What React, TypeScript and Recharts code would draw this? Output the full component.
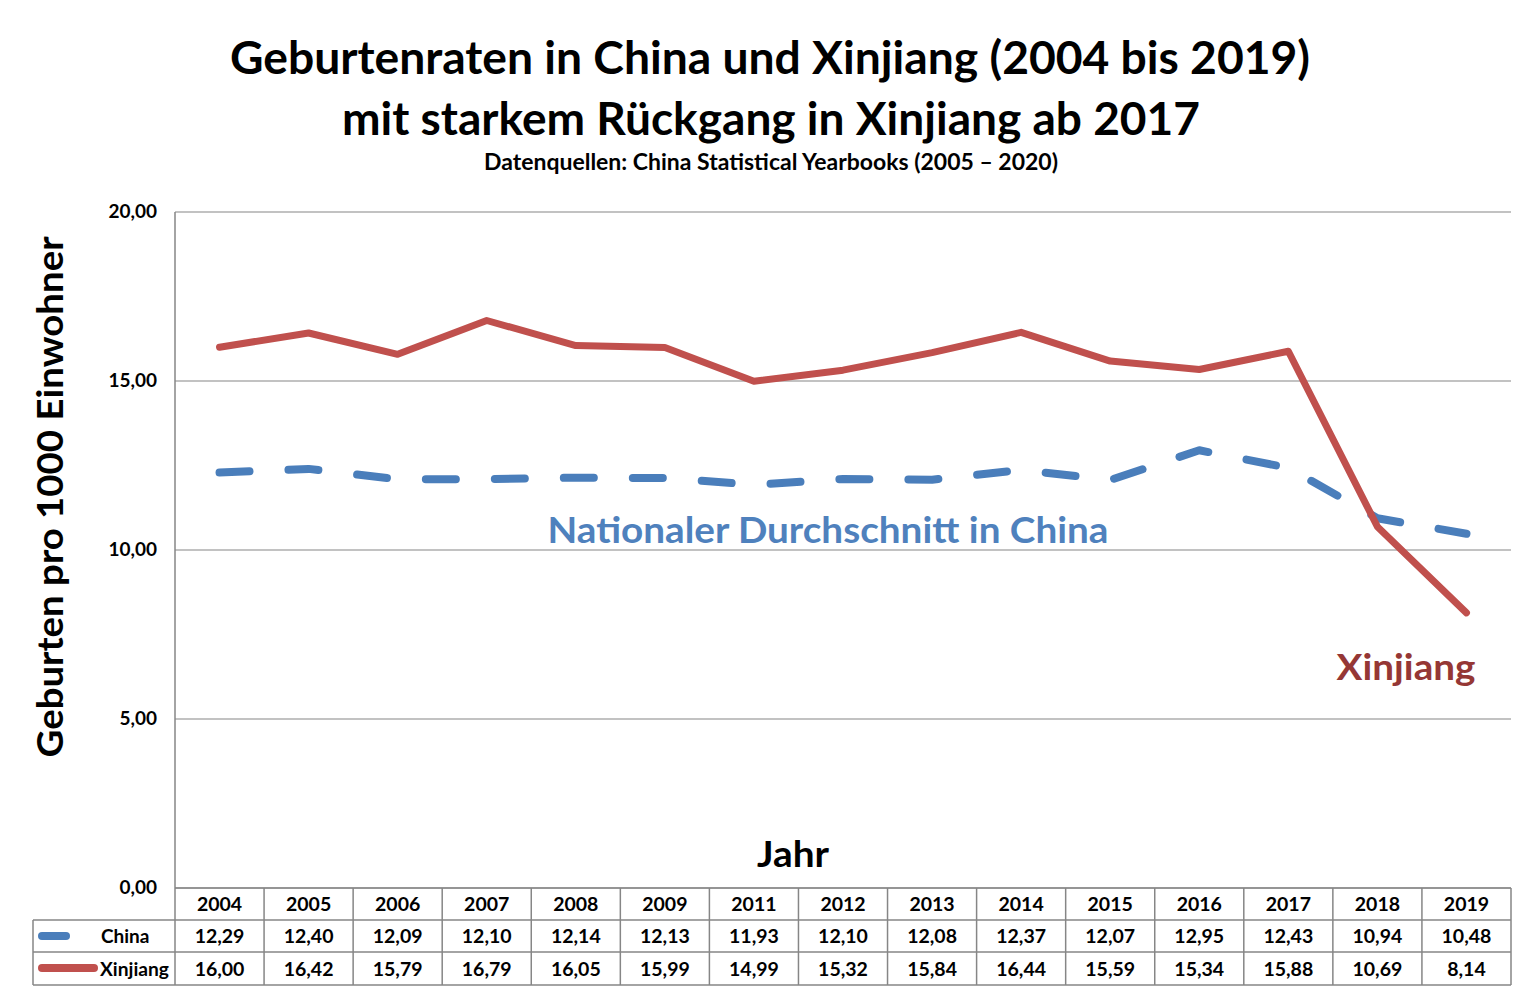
import React from 'react';
import { LineChart, Line, XAxis, YAxis, CartesianGrid } from 'recharts';

const years = ['2004', '2005', '2006', '2007', '2008', '2009', '2011', '2012', '2013', '2014', '2015', '2016', '2017', '2018', '2019'];
const chinaRates = [12.29, 12.4, 12.09, 12.1, 12.14, 12.13, 11.93, 12.1, 12.08, 12.37, 12.07, 12.95, 12.43, 10.94, 10.48];
const xinjiangRates = [16.0, 16.42, 15.79, 16.79, 16.05, 15.99, 14.99, 15.32, 15.84, 16.44, 15.59, 15.34, 15.88, 10.69, 8.14];
const yTicks = [0, 5, 10, 15, 20];

const data = years.map((year, i) => ({ year, china: chinaRates[i], xinjiang: xinjiangRates[i] }));

const W = 1533;
const H = 996;
const PLOT_LEFT = 175;
const PLOT_RIGHT = 1511;
const PLOT_TOP = 212;
const PLOT_BOTTOM = 888;
const ROW1 = 920;
const ROW2 = 952;
const TABLE_BOTTOM = 985;
const BAND = (PLOT_RIGHT - PLOT_LEFT) / years.length;
const X_AXIS_H = 30;

const FONT = 'Lato, "Open Sans", sans-serif';
const GRID = '#868686';
const BLUE = '#4A7EBB';
const RED = '#C0504D';

const fmt = (v: number) => v.toFixed(2).replace('.', ',');

function TableTick(props: any) {
  const { x, payload } = props;
  const i = years.indexOf(String(payload.value));
  if (i < 0) return null;
  const half = BAND / 2;
  const txt = { fontFamily: FONT, fontWeight: 700, fontSize: 19.5, fill: '#000', textAnchor: 'middle' as const };
  return (
    <g>
      <line x1={x + half} x2={x + half} y1={PLOT_BOTTOM} y2={TABLE_BOTTOM} stroke={GRID} strokeWidth={1.5} />
      <text x={x} y={911} {...txt}>{years[i]}</text>
      <text x={x} y={943} {...txt}>{fmt(chinaRates[i])}</text>
      <text x={x} y={976} {...txt}>{fmt(xinjiangRates[i])}</text>
    </g>
  );
}

function YTick(props: any) {
  const { y, payload } = props;
  return (
    <text x={157} y={y + 6} textAnchor="end" fontFamily={FONT} fontWeight={700} fontSize={19} fill="#000">
      {fmt(payload.value)}
    </text>
  );
}

export default function App() {
  return (
    <div style={{ position: 'absolute', left: 0, top: 0, width: W, height: H, background: '#fff' }}>
      <LineChart
        width={W}
        height={H}
        data={data}
        margin={{ top: PLOT_TOP, right: W - PLOT_RIGHT, bottom: H - PLOT_BOTTOM - X_AXIS_H, left: PLOT_LEFT - 80 }}
      >
        <CartesianGrid vertical={false} stroke={GRID} strokeWidth={1.2} />
        <XAxis
          dataKey="year"
          height={X_AXIS_H}
          padding={{ left: BAND / 2, right: BAND / 2 }}
          tickLine={false}
          axisLine={{ stroke: GRID, strokeWidth: 1.5 }}
          tick={(p: any) => <TableTick {...p} />}
          interval={0}
        />
        <YAxis width={80} domain={[0, 20]} ticks={yTicks} tickLine={false} axisLine={{ stroke: GRID, strokeWidth: 1.5 }} tick={(p: any) => <YTick {...p} />} />
        <Line
          type="linear"
          dataKey="china"
          stroke={BLUE}
          strokeWidth={8}
          strokeDasharray="30 39"
          strokeLinecap="round"
          strokeLinejoin="round"
          dot={false}
          activeDot={false}
          isAnimationActive={false}
        />
        <Line
          type="linear"
          dataKey="xinjiang"
          stroke={RED}
          strokeWidth={7}
          strokeLinecap="round"
          strokeLinejoin="round"
          dot={false}
          activeDot={false}
          isAnimationActive={false}
        />
      </LineChart>
      <svg width={W} height={H} style={{ position: 'absolute', left: 0, top: 0, pointerEvents: 'none' }}>
        <g fontFamily={FONT} fontWeight={700} textAnchor="middle">
          <text x={770} y={74} fontSize={45} textLength={1080} lengthAdjust="spacingAndGlyphs" fill="#000">
            Geburtenraten in China und Xinjiang (2004 bis 2019)
          </text>
          <text x={771} y={135} fontSize={45} textLength={858} lengthAdjust="spacingAndGlyphs" fill="#000">
            mit starkem Rückgang in Xinjiang ab 2017
          </text>
          <text x={771} y={170} fontSize={22} textLength={574} lengthAdjust="spacingAndGlyphs" fill="#000">
            Datenquellen: China  Statistical Yearbooks (2005 – 2020)
          </text>
          <text
            x={0}
            y={0}
            fontSize={36}
            textLength={521}
            lengthAdjust="spacingAndGlyphs"
            fill="#000"
            transform="translate(63 497) rotate(-90)"
          >
            Geburten pro 1000 Einwohner
          </text>
          <text x={793} y={867} fontSize={36} textLength={72} lengthAdjust="spacingAndGlyphs" fill="#000">
            Jahr
          </text>
          <text x={828} y={543} fontSize={36} textLength={561} lengthAdjust="spacingAndGlyphs" fill="#4F81BD">
            Nationaler Durchschnitt in China
          </text>
          <text x={1406} y={680} fontSize={36} textLength={139} lengthAdjust="spacingAndGlyphs" fill="#953735">
            Xinjiang
          </text>
        </g>
        <g stroke={GRID} strokeWidth={1.5}>
          <line x1={PLOT_LEFT} x2={PLOT_LEFT} y1={PLOT_BOTTOM} y2={TABLE_BOTTOM} />
          <line x1={33} x2={PLOT_RIGHT} y1={ROW1} y2={ROW1} />
          <line x1={33} x2={PLOT_RIGHT} y1={ROW2} y2={ROW2} />
          <line x1={33} x2={PLOT_RIGHT} y1={TABLE_BOTTOM} y2={TABLE_BOTTOM} />
          <line x1={33} x2={33} y1={ROW1} y2={TABLE_BOTTOM} />
        </g>
        <line x1={42} x2={66} y1={936} y2={936} stroke={BLUE} strokeWidth={8} strokeLinecap="round" />
        <line x1={42} x2={94} y1={968} y2={968} stroke={RED} strokeWidth={8} strokeLinecap="round" />
        <g fontFamily={FONT} fontWeight={700} fontSize={19} fill="#000">
          <text x={101} y={943}>China</text>
          <text x={100} y={976} textLength={69} lengthAdjust="spacingAndGlyphs">Xinjiang</text>
        </g>
      </svg>
    </div>
  );
}
